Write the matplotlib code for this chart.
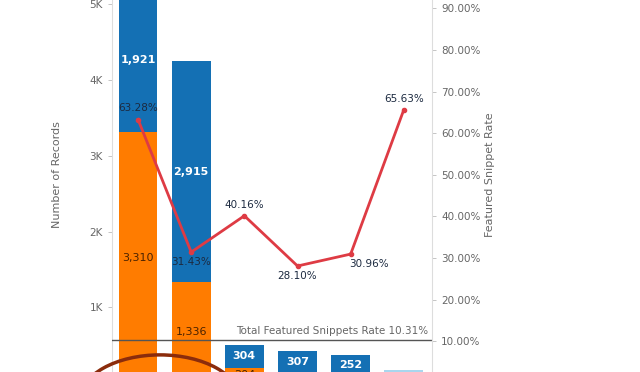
import matplotlib.pyplot as plt
from matplotlib.patches import Ellipse
from matplotlib.ticker import FuncFormatter

# dados
categorias = ["1", "2", "3", "4", "5", "6"]
com_snippet = [3310, 1336, 204, 120, 113, 115]
sem_snippet = [1921, 2915, 304, 307, 252, 60]
taxa = [63.28, 31.43, 40.16, 28.10, 30.96, 65.63]
taxa_total = 10.31

azul = "#1470b4"
laranja = "#ff7c00"
vermelho = "#de3b44"
cinza = "#666666"

fig = plt.figure(figsize=(6.4, 3.72), dpi=100)
ax = fig.add_axes([112 / 640, -11 / 372, 320 / 640, 416.4 / 372])
ax2 = ax.twinx()

x = list(range(len(categorias)))
ax.bar(x, com_snippet, width=0.73, color=laranja)
cores_azul = [azul] * 5 + ["#a9d6ee"]
ax.bar(x, sem_snippet, width=0.73, bottom=com_snippet, color=cores_azul)

ax.set_xlim(-0.49, 5.53)
ax.set_ylim(0, 5500)
ax.set_xticks(x)
ax.set_xticklabels(categorias)
ax.tick_params(axis="x", labelbottom=False, length=0)
ax.set_yticks([1000, 2000, 3000, 4000, 5000])
ax.yaxis.set_major_formatter(FuncFormatter(lambda v, p: "%dK" % (v / 1000)))
ax.set_ylabel("Number of Records", fontsize=8, color=cinza, labelpad=20)

# rotulos das barras
for i in range(3):
    ax.text(i, com_snippet[i] / 2, "{:,}".format(com_snippet[i]), ha="center", va="center",
            fontsize=8, color="#4a2200")
    ax.text(i, com_snippet[i] + sem_snippet[i] / 2, "{:,}".format(sem_snippet[i]), ha="center",
            va="center", fontsize=8, color="white", fontweight="bold")
for i in range(3, 5):
    ax.text(i, com_snippet[i] + sem_snippet[i] / 2, "{:,}".format(sem_snippet[i]), ha="center",
            va="center", fontsize=8, color="white", fontweight="bold")

# linha da taxa
taxa_frac = [t / 100 for t in taxa]
ax2.plot(x, taxa_frac, color=vermelho, lw=2, marker="o", ms=3)
ax2.set_ylim(0, 1.0)
ax2.set_yticks([i / 10 for i in range(1, 10)])
ax2.yaxis.set_major_formatter(FuncFormatter(lambda v, p: "%.2f%%" % (v * 100)))
ax2.set_ylabel("Featured Snippet Rate", fontsize=8, color=cinza, labelpad=3)

desloc = [(0, 12), (0, -10), (0, 11), (0, -10), (18, -10), (0, 11)]
for i, t in enumerate(taxa):
    ax2.text(i + desloc[i][0] / 53.2, t / 100 + desloc[i][1] / 416.4, "%.2f%%" % t,
             ha="center", va="center", fontsize=7.5, color="#1c2a40")

ax2.axhline(taxa_total / 100, color="#555555", lw=1)
ax2.text(5.45, taxa_total / 100 + 9 / 416.4, "Total Featured Snippets Rate %.2f%%" % taxa_total,
         ha="right", va="center", fontsize=7.5, color=cinza)

for a in (ax, ax2):
    a.tick_params(labelsize=7.5, colors=cinza, length=3, width=0.6)
    for s in a.spines.values():
        s.set_visible(False)
ax.spines["left"].set_visible(True)
ax.spines["left"].set_color("#dddddd")
ax2.spines["right"].set_visible(True)
ax2.spines["right"].set_color("#dddddd")
ax.tick_params(axis="y", colors="#bbbbbb", labelcolor=cinza)
ax2.tick_params(axis="y", colors="#bbbbbb", labelcolor=cinza)

# circulo de destaque desenhado por cima
circulo = Ellipse((0.25, -0.075), 0.25, 0.242, transform=fig.transFigure, fill=False,
                  edgecolor="#8b2c0c", lw=2.5, clip_on=False)
fig.patches.append(circulo)

fig.savefig("out.png", dpi=100)
